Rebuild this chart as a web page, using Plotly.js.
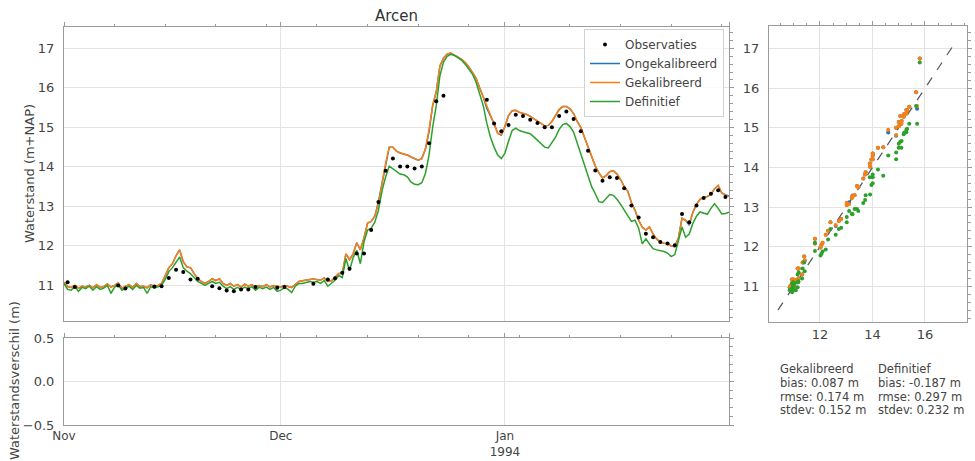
<!DOCTYPE html>
<html><head><meta charset="utf-8">
<script src="https://cdn.plot.ly/plotly-3.0.1.min.js"></script>
<style>html,body{margin:0;padding:0;background:#fff}#chart{width:975px;height:461px}</style>
</head><body><div id="chart"></div>
<script>
// ---- data (12-hourly model values starting 1993-11-01 00:00) ----
const startDate = '1993-11-01';
const stepHours = 12;

const gekalibreerd = [
 11.08,10.97,10.95,11.00,10.93,10.98,10.96,11.00,10.94,11.02,
 10.95,10.97,11.04,10.96,11.00,11.06,10.93,10.97,11.02,10.95,
 11.05,10.97,10.98,10.94,11.02,10.97,11.00,11.05,11.25,11.45,
 11.55,11.75,11.90,11.60,11.47,11.45,11.30,11.17,11.10,11.05,
 11.10,11.17,11.12,11.17,11.05,11.00,11.05,10.98,11.02,10.96,
 11.03,10.98,11.02,10.96,11.00,10.97,11.02,10.96,11.00,10.98,
 10.96,11.00,10.97,10.95,11.02,11.10,11.12,11.14,11.15,11.16,
 11.15,11.13,11.19,11.10,11.12,11.20,11.30,11.30,11.80,11.65,
 11.80,12.08,11.90,12.20,12.58,12.62,12.75,13.07,13.60,14.10,
 14.50,14.50,14.40,14.35,14.32,14.30,14.25,14.20,14.17,14.21,
 14.45,14.95,15.55,15.90,16.55,16.75,16.85,16.88,16.84,16.78,
 16.72,16.64,16.53,16.40,16.25,16.00,15.77,15.55,15.30,15.10,
 14.85,14.82,15.02,15.30,15.42,15.43,15.38,15.36,15.33,15.28,
 15.22,15.17,15.10,15.04,15.05,15.15,15.30,15.45,15.53,15.53,
 15.47,15.35,15.15,15.00,14.75,14.51,14.25,14.02,13.85,13.72,
 13.78,13.88,13.90,13.82,13.68,13.50,13.38,13.10,12.90,12.65,
 12.47,12.40,12.48,12.30,12.17,12.10,12.07,12.05,12.00,11.98,
 12.20,12.70,12.65,12.55,12.85,13.05,13.18,13.23,13.25,13.30,
 13.45,13.53,13.34,13.28,13.25
];
const ongekalibreerd = [
 11.08,10.97,10.95,11.00,10.93,10.98,10.96,11.00,10.94,11.02,
 10.95,10.97,11.04,10.96,11.00,11.06,10.93,10.97,11.02,10.95,
 11.05,10.97,10.98,10.94,11.02,10.97,11.00,11.05,11.25,11.45,
 11.55,11.75,11.90,11.60,11.47,11.45,11.30,11.17,11.10,11.05,
 11.10,11.17,11.12,11.17,11.05,11.00,11.05,10.98,11.02,10.96,
 11.03,10.98,11.02,10.96,11.00,10.97,11.02,10.96,11.00,10.98,
 10.96,11.00,10.97,10.95,11.02,11.10,11.12,11.14,11.15,11.16,
 11.15,11.13,11.19,11.10,11.12,11.20,11.30,11.30,11.80,11.65,
 11.80,12.08,11.90,12.20,12.58,12.62,12.75,13.12,13.60,14.10,
 14.50,14.50,14.40,14.35,14.32,14.30,14.25,14.20,14.17,14.21,
 14.45,14.88,15.55,15.90,16.55,16.75,16.85,16.88,16.84,16.78,
 16.72,16.64,16.53,16.40,16.25,16.00,15.77,15.48,15.30,15.10,
 14.85,14.80,15.02,15.30,15.42,15.43,15.38,15.36,15.33,15.28,
 15.22,15.17,15.10,15.04,15.05,15.15,15.30,15.45,15.53,15.53,
 15.47,15.35,15.15,15.00,14.75,14.51,14.25,14.02,13.85,13.72,
 13.78,13.88,13.90,13.82,13.68,13.50,13.38,13.10,12.90,12.65,
 12.47,12.40,12.48,12.30,12.17,12.10,12.07,12.05,12.00,11.98,
 12.20,12.70,12.65,12.52,12.85,13.05,13.18,13.23,13.25,13.30,
 13.45,13.53,13.34,13.29,13.27
];
const definitief = [
 11.05,10.90,10.88,10.97,10.85,10.95,10.92,10.98,10.88,10.97,
 10.90,10.93,11.00,10.80,10.96,11.02,10.88,10.92,10.98,10.90,
 11.00,10.93,10.95,10.80,10.97,10.93,10.96,11.00,11.15,11.35,
 11.45,11.60,11.72,11.45,11.36,11.30,11.20,11.10,11.05,11.00,
 11.05,11.10,11.05,11.08,10.98,10.92,10.97,10.90,10.95,10.90,
 10.96,10.92,10.97,10.88,10.95,10.92,10.96,10.90,10.95,10.85,
 10.88,10.95,10.90,10.82,10.98,11.05,11.05,11.08,11.10,11.08,
 11.10,11.05,11.12,10.98,11.05,11.13,11.25,11.20,11.68,11.38,
 11.70,11.89,11.55,12.10,12.40,12.45,12.60,12.90,13.40,13.75,
 14.02,13.95,13.87,13.82,13.80,13.75,13.62,13.56,13.55,13.60,
 13.83,14.30,15.00,15.55,16.30,16.65,16.80,16.85,16.82,16.77,
 16.70,16.60,16.48,16.35,16.15,15.85,15.55,15.10,14.75,14.50,
 14.30,14.21,14.35,14.65,14.92,14.98,14.92,14.89,14.87,14.84,
 14.76,14.67,14.57,14.50,14.48,14.60,14.75,14.95,15.07,15.10,
 15.02,14.88,14.60,14.38,14.05,13.79,13.50,13.32,13.12,13.10,
 13.20,13.30,13.28,13.18,13.05,12.90,12.78,12.62,12.65,12.45,
 12.05,12.18,12.05,11.93,11.90,11.88,11.86,11.82,11.73,11.78,
 12.10,12.48,12.22,12.30,12.57,12.75,12.86,12.83,12.80,12.95,
 13.07,12.95,12.81,12.82,12.85
];

// observations: day offset from 1 Nov (at 12:00) and value
const obsDay = [0,1,7,8,12,13,14,15,16,17,18,20,21,22,23,24,25,26,29,30,34,36,37,38,39,40,41,42,43,44,45,46,47,48,49,50,51,52,
 58,59,60,61,62,63,64,65,66,67,68,69,70,71,72,73,74,75,76,77,78,79,80,81,82,83,84,85,86,87,88,89,90,91];
const obsValue = [11.08,10.96,11.00,10.92,10.97,10.98,11.19,11.40,11.34,11.15,11.17,10.98,10.93,10.87,10.85,10.90,10.90,10.96,10.94,10.96,
 11.04,11.15,11.18,11.32,11.42,11.81,11.81,12.40,13.11,13.90,14.21,14.01,14.01,13.96,14.01,14.60,15.66,15.80,
 15.70,15.10,14.90,15.06,15.32,15.29,15.19,15.11,15.00,15.00,15.29,15.40,15.21,14.90,14.41,13.91,13.65,13.74,13.72,13.46,
 13.02,12.72,12.31,12.22,12.10,12.06,12.02,12.81,12.60,13.02,13.21,13.32,13.41,13.24];

const monthTicks = ['1993-11-01','1993-12-01','1994-01-01'];
const monthLabels = ['Nov','Dec','Jan<br>1994'];
const levelTicks = [11,12,13,14,15,16,17];
const diffTicks = [-0.5,0,0.5];
const diffLabels = ['\u22120.5','0.0','0.5'];
const scatterTicks = [12,14,16];
const statNames = ['bias','rmse','stdev'];
const statsGekalibreerd = ['0.087','0.174','0.152'];
const statsDefinitief = ['-0.187','0.297','0.232'];

// ---- helpers ----
const t0 = Date.UTC(1993,10,1);
function timeAt(i){ return new Date(t0 + i*stepHours*3600e3).toISOString().slice(0,19).replace('T',' '); }
const modelTimes = gekalibreerd.map((_,i)=>timeAt(i));
const obsIdx = obsDay.map(d=>2*d+1);
const obsTimes = obsIdx.map(i=>timeAt(i));

const C = {blue:'#1f77b4', orange:'#ff7f0e', green:'#2ca02c'};
const FONT = 'DejaVu Sans';
const W=975, H=461;
const px = v=>v/W, py = v=>1-v/H;
const dateRange = ['1993-11-01','1994-02-01'];
const mainYR = [10.1,17.54], scYR=[10.1,17.57], scXR=[10.06,17.6];

const traces = [
 {x:modelTimes, y:ongekalibreerd, name:'Ongekalibreerd', type:'scatter', mode:'lines', line:{color:C.blue,width:1.5}, legendrank:2, xaxis:'x', yaxis:'y'},
 {x:modelTimes, y:gekalibreerd, name:'Gekalibreerd', type:'scatter', mode:'lines', line:{color:C.orange,width:1.5}, legendrank:3, xaxis:'x', yaxis:'y'},
 {x:modelTimes, y:definitief, name:'Definitief', type:'scatter', mode:'lines', line:{color:C.green,width:1.5}, legendrank:4, xaxis:'x', yaxis:'y'},
 {x:obsTimes, y:obsValue, name:'Observaties', type:'scatter', mode:'markers', marker:{color:'#000',size:4}, legendrank:1, xaxis:'x', yaxis:'y'},
 {x:obsValue, y:obsIdx.map(i=>ongekalibreerd[i]), type:'scatter', mode:'markers', marker:{color:C.blue,size:4}, showlegend:false, xaxis:'x3', yaxis:'y3'},
 {x:obsValue, y:obsIdx.map(i=>gekalibreerd[i]), type:'scatter', mode:'markers', marker:{color:C.orange,size:4}, showlegend:false, xaxis:'x3', yaxis:'y3'},
 {x:obsValue, y:obsIdx.map(i=>definitief[i]), type:'scatter', mode:'markers', marker:{color:C.green,size:4}, showlegend:false, xaxis:'x3', yaxis:'y3'},
];
[['x2','y2'],['x4','y'],['x','y4'],['x5','y2'],['x2','y5'],['x6','y3'],['x3','y6']].forEach(([a,b])=>{
  traces.push({x:[],y:[],type:'scatter',mode:'markers',showlegend:false,hoverinfo:'skip',xaxis:a,yaxis:b});
});

const frameCol = '#9a9a9a', gridCol='#e3e3e3', tickCol='#9a9a9a';
const base = {showline:true, mirror:true, linecolor:frameCol, linewidth:1, gridcolor:gridCol, gridwidth:1,
  zeroline:false, ticks:'', tickfont:{family:FONT,size:13,color:'#444'}, fixedrange:true};
const overlayBase = {showgrid:false, showticklabels:false, showline:false, zeroline:false, ticks:'outside',
  ticklen:4, tickcolor:tickCol, tickwidth:1, fixedrange:true};

const xMain=[px(64),px(729)];
const layout = {
  width:W, height:H, margin:{l:0,r:0,t:0,b:0}, paper_bgcolor:'#fff', plot_bgcolor:'#fff',
  font:{family:FONT, color:'#444'}, showlegend:true,
  title:{text:'Arcen', font:{family:FONT,size:15,color:'#333'}, x:(64+729)/2/W, xanchor:'center', xref:'paper', y:py(16), yanchor:'middle', yref:'container'},
  xaxis: Object.assign({}, base, {domain:xMain, anchor:'y', type:'date', range:dateRange, tickmode:'array', tickvals:monthTicks.slice(1), showticklabels:false}),
  yaxis: Object.assign({}, base, {domain:[py(321),py(27)], anchor:'x', range:mainYR, tickmode:'array', tickvals:levelTicks, ticklabelstandoff:6}),
  xaxis2: Object.assign({}, base, {domain:xMain, anchor:'y2', type:'date', range:dateRange, tickmode:'array', tickvals:monthTicks, ticktext:monthLabels, ticklabelstandoff:0,
    tickfont:{family:FONT,size:12,color:'#444'}}),
  yaxis2: Object.assign({}, base, {domain:[py(425),py(338)], anchor:'x2', range:[-0.5,0.5], tickmode:'array', tickvals:diffTicks, ticktext:diffLabels, ticklabelstandoff:6}),
  xaxis3: Object.assign({}, base, {domain:[px(769),px(967)], anchor:'y3', range:scXR, tickmode:'array', tickvals:scatterTicks, ticklabelstandoff:0}),
  yaxis3: Object.assign({}, base, {domain:[py(322),py(26)], anchor:'x3', range:scYR, tickmode:'array', tickvals:levelTicks, ticklabelstandoff:6}),
  xaxis4: Object.assign({}, overlayBase, {overlaying:'x', anchor:'y', side:'top', type:'date', range:dateRange, tickmode:'array', tickvals:monthTicks.concat(['1994-02-01']),
    minor:{ticks:'outside', ticklen:2.5, tickcolor:tickCol, tickmode:'linear', tick0:'1993-11-01', dtick:7*86400000, showgrid:false}}),
  yaxis4: Object.assign({}, overlayBase, {overlaying:'y', anchor:'x', side:'right', range:mainYR, tickmode:'array', tickvals:levelTicks,
    minor:{ticks:'outside', ticklen:2.5, tickcolor:tickCol, tickmode:'linear', tick0:0, dtick:0.2, showgrid:false}}),
  xaxis5: Object.assign({}, overlayBase, {overlaying:'x2', anchor:'y2', side:'top', type:'date', range:dateRange, tickmode:'array', tickvals:monthTicks.concat(['1994-02-01']),
    minor:{ticks:'outside', ticklen:2.5, tickcolor:tickCol, tickmode:'linear', tick0:'1993-11-01', dtick:7*86400000, showgrid:false}}),
  yaxis5: Object.assign({}, overlayBase, {overlaying:'y2', anchor:'x2', side:'right', range:[-0.5,0.5], tickmode:'array', tickvals:diffTicks,
    minor:{ticks:'outside', ticklen:2.5, tickcolor:tickCol, tickmode:'linear', tick0:0, dtick:0.1, showgrid:false}}),
  xaxis6: Object.assign({}, overlayBase, {overlaying:'x3', anchor:'y3', side:'top', range:scXR, tickmode:'array', tickvals:scatterTicks,
    minor:{ticks:'outside', ticklen:2.5, tickcolor:tickCol, tickmode:'linear', tick0:0, dtick:0.5, showgrid:false}}),
  yaxis6: Object.assign({}, overlayBase, {overlaying:'y3', anchor:'x3', side:'right', range:scYR, tickmode:'array', tickvals:levelTicks,
    minor:{ticks:'outside', ticklen:2.5, tickcolor:tickCol, tickmode:'linear', tick0:0, dtick:0.2, showgrid:false}}),
  legend:{x:px(724), xanchor:'right', y:py(29), yanchor:'top', bgcolor:'rgba(255,255,255,0.85)', bordercolor:'#d0d0d0', borderwidth:1,
    font:{family:FONT,size:12,color:'#444'}, traceorder:'normal', itemwidth:30, tracegroupgap:0},
  shapes:[{type:'line', xref:'x3', yref:'y3', x0:10.4, y0:10.4, x1:17.2, y1:17.2, layer:'between', line:{color:'#555', width:1.2, dash:'dash'}}],
  annotations:[
    {text:'Waterstand (m+NAP)', xref:'paper', yref:'paper', x:px(30), y:py((27+321)/2), textangle:-90, showarrow:false, xanchor:'center', yanchor:'middle', font:{family:FONT,size:13,color:'#444'}},
    {text:'Waterstandsverschil (m)', xref:'paper', yref:'paper', x:px(14), y:py(381), textangle:-90, showarrow:false, xanchor:'center', yanchor:'middle', font:{family:FONT,size:13,color:'#444'}},
  ]
};
const statHeaders = [['Gekalibreerd', statsGekalibreerd, 777.5], ['Definitief', statsDefinitief, 875.5]];
statHeaders.forEach(([head, vals, x0])=>{
  const lines = [head].concat(statNames.map((n,k)=>n+': '+vals[k]+' m'));
  lines.forEach((t,k)=>{
    layout.annotations.push({text:t, xref:'paper', yref:'paper', x:px(x0), y:py(369.3+13.6*k), xanchor:'left', yanchor:'middle', showarrow:false, font:{family:FONT,size:11.5,color:'#444'}});
  });
});

Plotly.newPlot('chart', traces, layout, {staticPlot:true, displayModeBar:false});
</script>
</body></html>
